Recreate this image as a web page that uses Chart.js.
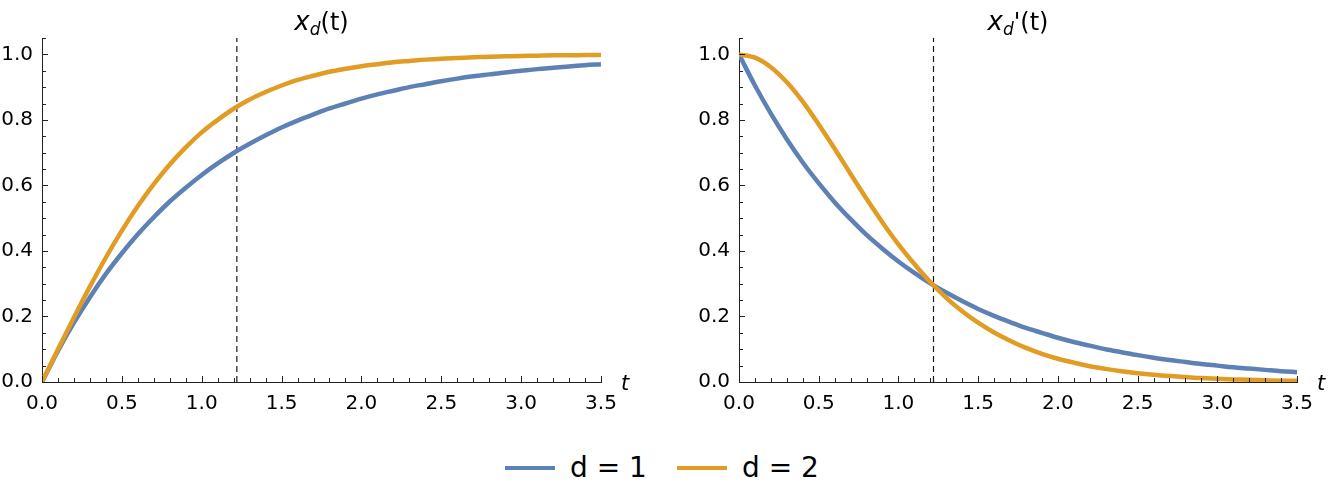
<!DOCTYPE html>
<html>
<head>
<meta charset="utf-8">
<script src="https://cdn.jsdelivr.net/npm/chart.js@4.4.0/dist/chart.umd.min.js"></script>
<style>
  body { margin: 0; background: #fff; width: 1329px; height: 501px; overflow: hidden; position: relative; font-family: 'DejaVu Sans', sans-serif; }
  .panel { position: absolute; top: 0; height: 430px; }
  #leftBox { left: 0; width: 660px; }
  #rightBox { left: 680px; width: 649px; }
  .sw { position: absolute; top: 466px; width: 50px; height: 4px; }
  .lt { position: absolute; top: 454px; font-size: 28px; line-height: 28px; color: #000; white-space: pre; }
</style>
</head>
<body>
<div class="panel" id="leftBox"><canvas id="leftChart"></canvas></div>
<div class="panel" id="rightBox"><canvas id="rightChart"></canvas></div>
<div class="sw" style="left:505px;background:#5e81b5"></div>
<div class="lt" style="left:570px">d = 1</div>
<div class="sw" style="left:677px;background:#e19c24"></div>
<div class="lt" style="left:742px">d = 2</div>
<script>
// sample times
const times = [0, 0.1, 0.2, 0.3, 0.4, 0.5, 0.6, 0.7, 0.8, 0.9, 1.0, 1.1, 1.2, 1.3, 1.4, 1.5, 1.6, 1.7,
  1.8, 1.9, 2.0, 2.1, 2.2, 2.3, 2.4, 2.5, 2.6, 2.7, 2.8, 2.9, 3.0, 3.1, 3.2, 3.3, 3.4, 3.5];

// x_d(t)
const posD1 = [0, 0.095, 0.181, 0.259, 0.330, 0.393, 0.451, 0.503, 0.551, 0.593, 0.632, 0.667, 0.699,
  0.727, 0.753, 0.777, 0.798, 0.817, 0.835, 0.850, 0.865, 0.878, 0.889, 0.900, 0.909, 0.918, 0.926,
  0.933, 0.939, 0.945, 0.950, 0.955, 0.959, 0.963, 0.967, 0.970];
const posD2 = [0, 0.100, 0.197, 0.291, 0.380, 0.462, 0.537, 0.604, 0.664, 0.716, 0.762, 0.800, 0.834,
  0.862, 0.885, 0.905, 0.922, 0.935, 0.947, 0.956, 0.964, 0.970, 0.976, 0.980, 0.984, 0.987, 0.989,
  0.991, 0.993, 0.994, 0.995, 0.996, 0.997, 0.997, 0.998, 0.998];

// x_d'(t)
const velD1 = [1.000, 0.905, 0.819, 0.741, 0.670, 0.607, 0.549, 0.497, 0.449, 0.407, 0.368, 0.333, 0.301,
  0.273, 0.247, 0.223, 0.202, 0.183, 0.165, 0.150, 0.135, 0.122, 0.111, 0.100, 0.091, 0.082, 0.074,
  0.067, 0.061, 0.055, 0.050, 0.045, 0.041, 0.037, 0.033, 0.030];
const velD2 = [1.000, 0.990, 0.961, 0.915, 0.856, 0.786, 0.712, 0.635, 0.559, 0.487, 0.420, 0.360, 0.305,
  0.257, 0.216, 0.181, 0.151, 0.126, 0.104, 0.086, 0.071, 0.059, 0.048, 0.040, 0.033, 0.027, 0.022,
  0.018, 0.015, 0.012, 0.010, 0.008, 0.007, 0.005, 0.004, 0.004];

const crossT = 1.22;

const xTicks = [0, 0.5, 1.0, 1.5, 2.0, 2.5, 3.0, 3.5];
const yTicks = [0, 0.2, 0.4, 0.6, 0.8, 1.0];

const BLUE = '#5e81b5';
const ORANGE = '#e19c24';
const FONT = "'DejaVu Sans', sans-serif";

const pts = (ys) => times.map((t, i) => ({ x: t, y: ys[i] }));

// inward ticks, titles and the t label
const decor = {
  id: 'decor',
  afterDraw(chart, args, opts) {
    const { ctx, chartArea: a, scales: { x, y } } = chart;
    ctx.save();
    ctx.strokeStyle = '#222';
    ctx.lineWidth = 1;
    ctx.beginPath();
    for (let i = 0; i <= 35; i++) {
      const px = Math.round(x.getPixelForValue(i / 10)) + 0.5;
      const len = i % 5 === 0 ? 6 : 4;
      ctx.moveTo(px, a.bottom);
      ctx.lineTo(px, a.bottom - len);
    }
    for (let i = 0; i <= 21; i++) {
      const py = Math.round(y.getPixelForValue(i / 20)) + 0.5;
      const len = i % 4 === 0 ? 6 : 4;
      ctx.moveTo(a.left, py);
      ctx.lineTo(a.left + len, py);
    }
    ctx.stroke();

    // title
    ctx.fillStyle = '#000';
    ctx.textBaseline = 'alphabetic';
    const parts = [
      { s: 'x', f: 'italic 26px ' + FONT, dy: 0 },
      { s: 'd', f: 'italic 17px ' + FONT, dy: 5 },
    ];
    if (opts.prime) parts.push({ s: "'", f: '24px ' + FONT, dy: 0 });
    parts.push({ s: '(t)', f: '24px ' + FONT, dy: 0 });
    let w = 0;
    parts.forEach(p => { ctx.font = p.f; p.w = ctx.measureText(p.s).width; w += p.w; });
    let cx = (a.left + a.right) / 2 - w / 2;
    parts.forEach(p => { ctx.font = p.f; ctx.fillText(p.s, cx, 30 + p.dy); cx += p.w; });

    // axis label
    ctx.font = 'italic 21px ' + FONT;
    ctx.fillText('t', a.right + 20, a.bottom + 8);
    ctx.restore();
  }
};

function makeChart(id, d1, d2, prime, padRight, yWidth) {
  return new Chart(document.getElementById(id), {
    type: 'line',
    data: {
      datasets: [
        { data: pts(d2), borderColor: ORANGE, borderWidth: 4.5, pointRadius: 0, cubicInterpolationMode: 'monotone', order: 0 },
        { data: pts(d1), borderColor: BLUE, borderWidth: 4.5, pointRadius: 0, cubicInterpolationMode: 'monotone', order: 1 },
        { data: [{ x: crossT, y: 0 }, { x: crossT, y: 1.05 }], borderColor: '#1a1a1a', borderWidth: 1.2,
          borderDash: [6, 4], pointRadius: 0, order: 2 }
      ]
    },
    options: {
      responsive: true,
      maintainAspectRatio: false,
      animation: false,
      layout: { padding: { left: 0, right: padRight, top: 38, bottom: 0 } },
      plugins: { legend: { display: false }, tooltip: { enabled: false }, decor: { prime: prime } },
      scales: {
        x: {
          type: 'linear', min: 0, max: 3.5,
          afterBuildTicks: s => { s.ticks = xTicks.map(v => ({ value: v })); },
          afterFit: s => { s.height = 48; },
          grid: { display: false, drawTicks: false },
          border: { display: true, color: '#222', width: 1 },
          ticks: { color: '#000', font: { family: FONT, size: 20 }, padding: 10, maxRotation: 0,
            callback: v => v.toFixed(1) }
        },
        y: {
          type: 'linear', min: 0, max: 1.05,
          afterBuildTicks: s => { s.ticks = yTicks.map(v => ({ value: v })); },
          afterFit: s => { s.width = yWidth; },
          grid: { display: false, drawTicks: false },
          border: { display: true, color: '#222', width: 1 },
          ticks: { color: '#000', font: { family: FONT, size: 20 }, padding: 9,
            callback: v => v.toFixed(1) }
        }
      }
    },
    plugins: [decor]
  });
}

makeChart('leftChart', posD1, posD2, false, 59, 42);
makeChart('rightChart', velD1, velD2, true, 32, 59);
</script>
</body>
</html>
